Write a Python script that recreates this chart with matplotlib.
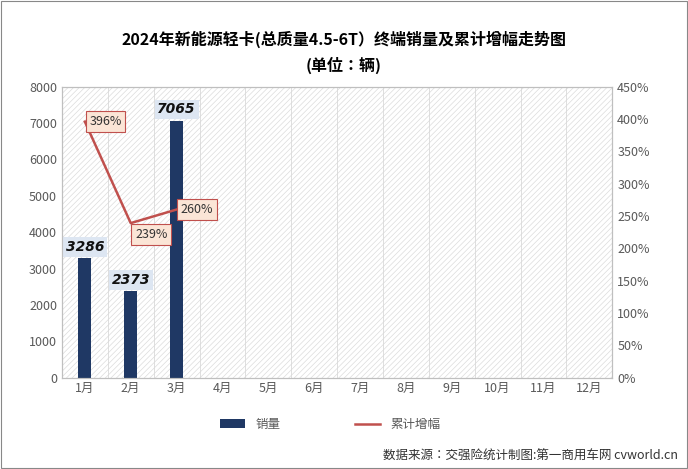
import matplotlib.pyplot as plt
import matplotlib as mpl

mpl.rcParams['font.family'] = ['Noto Sans CJK JP', 'Noto Sans CJK SC', 'Noto Sans CJK TC', 'DejaVu Sans']
mpl.rcParams['hatch.color'] = '#dcdcdc'
mpl.rcParams['hatch.linewidth'] = 0.5

months = ['1月', '2月', '3月', '4月', '5月', '6月', '7月', '8月', '9月', '10月', '11月', '12月']
sales = [3286, 2373, 7065]
growth = [396, 239, 260]

fig = plt.figure(figsize=(6.88, 4.69), dpi=100)
fig.patches.append(plt.Rectangle((0.002, 0.002), 0.996, 0.996, transform=fig.transFigure,
                                 fill=False, edgecolor='#888888', lw=0.8))
ax = fig.add_axes([0.09, 0.195, 0.80, 0.62])
ax.add_patch(plt.Rectangle((0, 0), 1, 1, transform=ax.transAxes, facecolor='white',
                           hatch='//////', edgecolor='#dcdcdc', lw=0, zorder=0))
x = list(range(len(months)))
ax.bar(x[:len(sales)], sales, width=0.28, color='#1f3864', zorder=2, label='销量')
ax.set_xlim(-0.5, 11.5)
ax.set_ylim(0, 8000)
ax.set_yticks(range(0, 8001, 1000))
ax.set_xticks(x)
ax.set_xticklabels(months)
for i in range(13):
    ax.axvline(i - 0.5, color='#d9d9d9', lw=0.6, zorder=1)
for s in ax.spines.values():
    s.set_color('#bfbfbf')
ax.tick_params(colors='#595959', labelsize=9, length=0)
for i, v in enumerate(sales):
    ax.text(i, v + 120, str(v), ha='center', va='bottom', fontsize=10, fontweight='bold',
            style='italic', family='DejaVu Sans', color='#111111', zorder=5,
            bbox=dict(boxstyle='square,pad=0.2', fc='#dde6f2', ec='none'))

ax2 = ax.twinx()
ax2.plot(x[:len(growth)], growth, color='#c0504d', lw=1.8, label='累计增幅')
ax2.set_ylim(0, 450)
ax2.set_yticks(range(0, 451, 50))
ax2.set_yticklabels([f'{t}%' for t in range(0, 451, 50)])
ax2.tick_params(colors='#595959', labelsize=9, length=0)
for s in ax2.spines.values():
    s.set_color('#bfbfbf')
offs = [(0.45, 0), (0.45, -18), (0.45, 0)]
for i, v in enumerate(growth):
    ax2.text(i + offs[i][0], v + offs[i][1], f'{v}%', ha='center', va='center', fontsize=9,
             color='#333333', zorder=6,
             bbox=dict(boxstyle='square,pad=0.3', fc='#fbe5d6', ec='#c0504d', lw=0.8))

fig.text(0.5, 0.905, '2024年新能源轻卡(总质量4.5-6T）终端销量及累计增幅走势图', ha='center',
         fontsize=11.5, fontweight='bold')
fig.text(0.5, 0.85, '(单位：辆)', ha='center', fontsize=11.5, fontweight='bold')

h1, l1 = ax.get_legend_handles_labels()
h2, l2 = ax2.get_legend_handles_labels()
fig.legend(h1 + h2, l1 + l2, loc='center', bbox_to_anchor=(0.48, 0.095), ncol=2,
           frameon=False, fontsize=9, columnspacing=6, labelcolor='#595959')
fig.text(0.985, 0.02, '数据来源：交强险统计制图:第一商用车网 cvworld.cn', ha='right',
         fontsize=9, color='#333333')
fig.savefig('out.png')
